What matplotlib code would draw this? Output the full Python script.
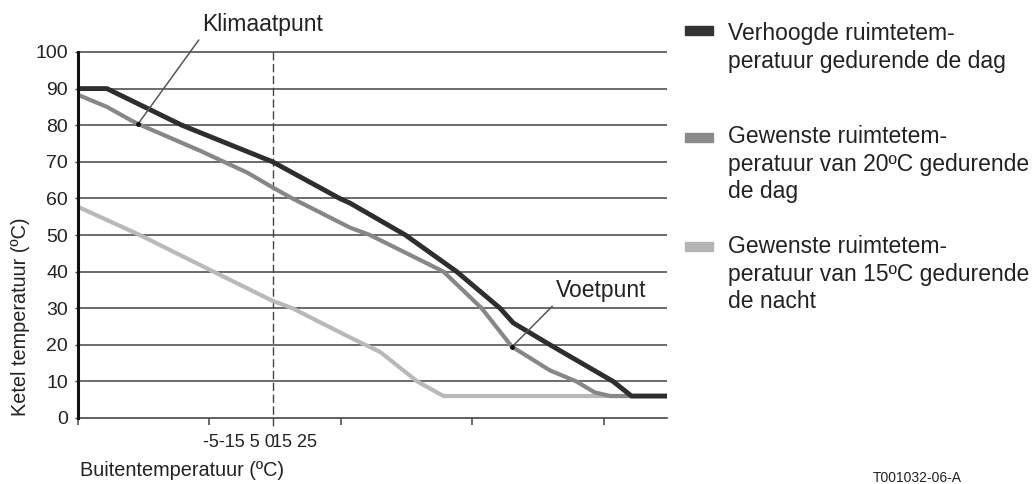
import matplotlib
matplotlib.use("Agg")
import matplotlib.pyplot as plt
from matplotlib.patches import Rectangle

plt.rcParams['font.family'] = ['Liberation Sans', 'DejaVu Sans']

# x is measured in tick intervals of the outdoor-temperature axis
x_max = 4.48
x_ticks = [0, 1, 2, 3, 4]
x_dashed = 1.48
y_ticks = list(range(0, 101, 10))

# Verhoogde ruimtetemperatuur gedurende de dag
x_dark = [0, 0.22, 0.79, 1.48, 1.99, 2.07, 2.49, 2.88, 3.21, 3.31, 3.59, 4.07, 4.21, 4.48]
y_dark = [90, 90, 80, 70, 60, 58.7, 50, 40, 30, 26, 20, 10, 6, 6]

# Gewenste ruimtetemperatuur 20 C dag
x_mid = [0, 0.22, 0.40, 0.46, 0.93, 1.29, 1.48, 1.63, 2.07, 2.22, 2.78, 3.07, 3.30, 3.59, 3.79, 3.93, 4.05, 4.48]
y_mid = [88.3, 85, 81.4, 80.3, 73, 67, 63, 60, 52, 50, 40, 30, 19.5, 13, 10, 7, 6, 6]

# Gewenste ruimtetemperatuur 15 C nacht
x_light = [0, 0.47, 1.03, 1.48, 1.63, 2.07, 2.30, 2.58, 2.78, 4.48]
y_light = [57.7, 50, 40, 32, 30, 22, 18, 10, 6, 6]

line_colors = ['#b9b9b9', '#878787', '#2e2e2e']
line_widths = [3.0, 3.0, 3.5]

legend_labels = ['Verhoogde ruimtetem-\nperatuur gedurende de dag',
                 'Gewenste ruimtetem-\nperatuur van 20ºC gedurende\nde dag',
                 'Gewenste ruimtetem-\nperatuur van 15ºC gedurende\nde nacht']
legend_colors = ['#333333', '#8a8a8a', '#b4b4b4']
legend_top_px = [22, 125, 235]
legend_patch_px = [26, 133, 242]

klimaat_pt = (0.456, 80.3)
klimaat_txt = (1.40, 107.5)
voet_pt = (3.30, 19.4)
voet_txt = (3.98, 34.7)

W, H = 1035, 484
fig = plt.figure(figsize=(W / 100, H / 100), dpi=100)
ax = fig.add_axes([78 / W, 1 - 418 / H, (667 - 78) / W, (418 - 52) / H])

ax.set_xlim(0, x_max)
ax.set_ylim(0, 100)

# horizontal grid
ax.hlines(y_ticks[1:], 0, x_max, colors='#444444', lw=1.1, zorder=1, clip_on=False)
# dashed line
ax.vlines(x_dashed, -2.2, 100, colors='#444444', lw=1.0, linestyles=(0, (6, 2.5)),
          zorder=1, clip_on=False)

for xs, ys, c, lw in zip([x_light, x_mid, x_dark], [y_light, y_mid, y_dark],
                         line_colors, line_widths):
    ax.plot(xs, ys, color=c, lw=lw, solid_joinstyle='round', solid_capstyle='butt',
            zorder=3, clip_on=False)

for spine in ['top', 'right']:
    ax.spines[spine].set_visible(False)
ax.spines['left'].set_linewidth(2.2)
ax.spines['left'].set_color('#111111')
ax.spines['bottom'].set_linewidth(1.2)
ax.spines['bottom'].set_color('#444444')
ax.spines['left'].set_zorder(4)

ax.set_xticks(x_ticks)
ax.set_xticklabels([])
ax.tick_params(axis='x', direction='out', length=5, width=1.1, color='#444444')
ax.set_yticks(y_ticks)
ax.set_yticklabels([str(v) for v in y_ticks], fontsize=14, color='#222222')
ax.tick_params(axis='y', direction='out', length=2.2, width=1.0, color='#444444', pad=5)

# crowded x tick labels
ax.text(x_dashed + 0.02, -4.3, '-5-15 5 0', fontsize=13, color='#222222',
        ha='right', va='top')
ax.text(x_dashed - 0.005, -4.3, '15 25', fontsize=13, color='#222222',
        ha='left', va='top')

fig.text(80 / W, 1 - 476 / H, 'Buitentemperatuur (ºC)', fontsize=14.3,
         color='#222222', ha='left', va='baseline')
fig.text(21 / W, 1 - 317 / H, 'Ketel temperatuur (ºC)', fontsize=14.3,
         color='#222222', rotation=90, ha='center', va='center')

# annotations
for pt, txt, label in [(klimaat_pt, klimaat_txt, 'Klimaatpunt'),
                       (voet_pt, voet_txt, 'Voetpunt')]:
    ax.annotate(label, xy=pt, xytext=txt, fontsize=16.5, color='#222222',
                ha='center', va='center', annotation_clip=False,
                arrowprops=dict(arrowstyle='-', color='#555555', lw=1.1,
                                relpos=(0, 0), shrinkA=1, shrinkB=0))
    ax.plot(*pt, marker='o', ms=2.5, color='#111111', zorder=5, clip_on=False)

# legend
for lab, col, top, ptop in zip(legend_labels, legend_colors, legend_top_px, legend_patch_px):
    fig.patches.append(Rectangle((685 / W, 1 - (ptop + 9) / H), 28 / W, 9 / H,
                                 transform=fig.transFigure, color=col))
    fig.text(728 / W, 1 - top / H, lab, fontsize=16.5, color='#222222',
             ha='left', va='top', linespacing=1.26)

fig.text(917 / W, 1 - 478 / H, 'T001032-06-A', fontsize=10, color='#222222',
         ha='center', va='center')

fig.savefig('out.png', dpi=100)
